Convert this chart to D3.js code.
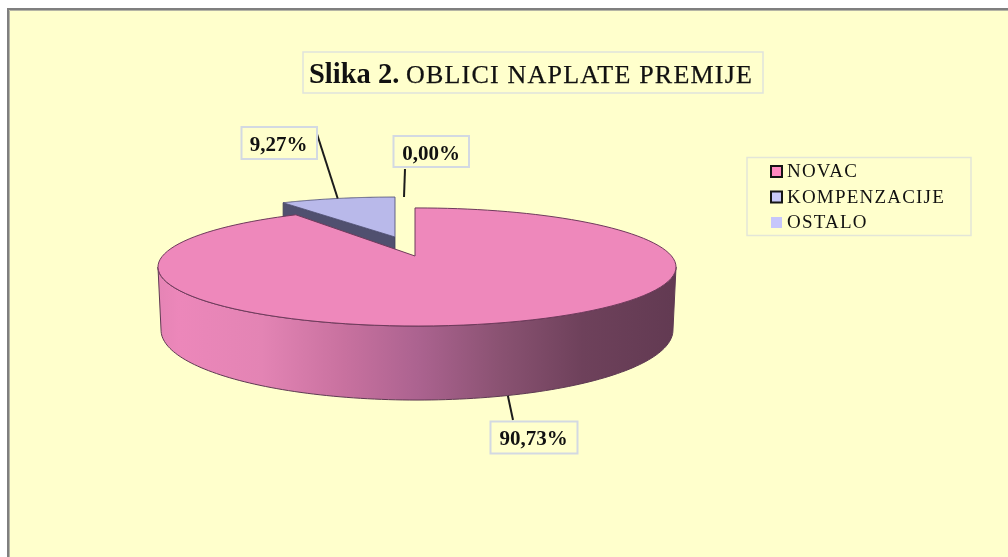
<!DOCTYPE html>
<html>
<head>
<meta charset="utf-8">
<script src="https://cdn.jsdelivr.net/npm/d3@7"></script>
<style>
  html, body { margin: 0; padding: 0; background: #fff; overflow: hidden; }
  svg { display: block; filter: blur(0.35px); }
  text { font-family: "Liberation Serif", serif; fill: #111; }
</style>
</head>
<body>
<svg id="chart" width="1008" height="557"></svg>
<script>
const categories = ["NOVAC", "KOMPENZACIJE", "OSTALO"];
const values = [90.73, 9.27, 0.00];
const titleBold = "Slika 2.";
const titleRest = "OBLICI NAPLATE PREMIJE";

const colors = ["#ee88bb", "#b9b9ea", "#c6c6fb"];
const legendColors = ["#ff88c0", "#c8c8f8", "#c6c6fb"];

const svg = d3.select("#chart");
const defs = svg.append("defs");

// chart area, only the top and left frame show in the crop
svg.append("rect").attr("x", 8).attr("y", 9).attr("width", 1000).attr("height", 548).attr("fill", "#ffffcc");
svg.append("path").attr("d", "M8,557V9H1008").attr("fill", "none").attr("stroke", "#7f7f7f").attr("stroke-width", 2);
svg.append("path").attr("d", "M9.5,557V10.5H1008").attr("fill", "none").attr("stroke", "#b5b5a5").attr("stroke-width", 1);

// perspective: a flat disc seen from above, near edge is drawn bigger
const k = -0.186;
function project(face, theta) {
  const ux = Math.sin(theta), uy = -Math.cos(theta), w = 1 + k * uy;
  return [face.x + face.b * ux / w, face.y + face.a * uy / w];
}
const mainTop = { x: 417, y: 256, a: 57, b: 254.5 };
const mainBottom = { x: 417, y: 317, a: 67.6, b: 251.5 };
const wedgeTop = { x: 395, y: 237, a: 47.4, b: 235 };
const wedgeBottom = { x: 395, y: 267, a: 47.4, b: 235 };
const notchX = 415;

const arcs = d3.pie().sort(null).value(d => d)(values);
const line = d3.line();
const sweep = (face, a0, a1) => d3.range(0, 121).map(i => project(face, a0 + (a1 - a0) * i / 120));

// side gradient
const grad = defs.append("linearGradient").attr("id", "sideShade")
  .attr("gradientUnits", "userSpaceOnUse")
  .attr("x1", 158).attr("x2", 676).attr("y1", 0).attr("y2", 0);
[[0, "#e584b5"], [0.04, "#ec87ba"], [0.2, "#e384b4"], [0.36, "#c8719f"], [0.5, "#ac6390"],
 [0.66, "#8a5272"], [0.82, "#6e415b"], [1, "#623a52"]].forEach(s => {
  grad.append("stop").attr("offset", s[0]).attr("stop-color", s[1]);
});

// KOMPENZACIJE wedge, pulled back from the main slice
const w = arcs[1];
svg.append("path")
  .attr("d", line([[wedgeTop.x, wedgeTop.y], project(wedgeTop, w.startAngle), project(wedgeBottom, w.startAngle), [wedgeBottom.x, wedgeBottom.y]]) + "Z")
  .attr("fill", "#50506f").attr("stroke", "#3c3c55").attr("stroke-width", 0.8);
svg.append("path")
  .attr("d", line([[wedgeTop.x, wedgeTop.y], ...sweep(wedgeTop, w.startAngle, w.endAngle)]) + "Z")
  .attr("fill", colors[1]).attr("stroke", "#55557a").attr("stroke-width", 0.9);

// NOVAC slice: outer wall then top face
const m = arcs[0];
const tangent = Math.acos(k);
const wallTop = sweep(mainTop, tangent, 2 * Math.PI - tangent);
const wallBottom = sweep(mainBottom, tangent, 2 * Math.PI - tangent).reverse();
svg.append("path")
  .attr("d", line(wallTop.concat(wallBottom)) + "Z")
  .attr("fill", "url(#sideShade)").attr("stroke", "#5e3a52").attr("stroke-width", 1);
const topRim = sweep(mainTop, m.startAngle, m.endAngle);
svg.append("path")
  .attr("d", line([[notchX, mainTop.y], [notchX, topRim[0][1]], ...topRim]) + "Z")
  .attr("fill", colors[0]).attr("stroke", "#6f3a5c").attr("stroke-width", 1);

// data labels with leader lines
const boxStroke = "#d3d9e2";
const fmt = v => v.toFixed(2).replace(".", ",") + "%";
const labelBoxes = [
  { x: 490.5, y: 421.5, w: 87, h: 32, tx: 533.5, ty: 445, to: [513, 420], shift: 3 },
  { x: 241.5, y: 127, w: 75.5, h: 32, tx: 278.5, ty: 151, to: [317, 134], shift: 0 },
  { x: 393.5, y: 136, w: 75.5, h: 31, tx: 431, ty: 159.5, to: [405, 169], shift: 0 }
];
const anchors = [
  project(mainBottom, (m.startAngle + m.endAngle) / 2),
  project(wedgeTop, (w.startAngle + w.endAngle) / 2),
  [404, project(wedgeTop, arcs[2].startAngle)[1]]
];
values.forEach((v, i) => {
  const b = labelBoxes[i];
  svg.append("line")
    .attr("x1", anchors[i][0] + b.shift).attr("y1", anchors[i][1])
    .attr("x2", b.to[0]).attr("y2", b.to[1])
    .attr("stroke", "#1c1c1c").attr("stroke-width", 2);
  svg.append("rect").attr("x", b.x).attr("y", b.y).attr("width", b.w).attr("height", b.h)
    .attr("fill", "#ffffcc").attr("stroke", boxStroke).attr("stroke-width", 2);
  svg.append("text").attr("x", b.tx).attr("y", b.ty).attr("text-anchor", "middle")
    .attr("font-size", 21).attr("font-weight", "bold").text(fmt(v));
});

// title
svg.append("rect").attr("x", 303).attr("y", 52).attr("width", 460).attr("height", 41)
  .attr("fill", "#ffffcc").attr("stroke", "#dfe3dc").attr("stroke-width", 1.5);
svg.append("text").attr("x", 309).attr("y", 83)
  .attr("font-size", 28.5).attr("font-weight", "bold").text(titleBold);
svg.append("text").attr("x", 406).attr("y", 83)
  .attr("font-size", 26).attr("letter-spacing", 1.2)
  .attr("stroke", "#111").attr("stroke-width", 0.25).text(titleRest);

// legend
svg.append("rect").attr("x", 747).attr("y", 157.5).attr("width", 224).attr("height", 78)
  .attr("fill", "#ffffcc").attr("stroke", "#e3e6d8").attr("stroke-width", 1.5);
const legendRow = d3.scalePoint().domain(categories).range([171, 222]);
categories.forEach((c, i) => {
  const hasBorder = i < 2;
  svg.append("rect").attr("x", 771).attr("y", legendRow(c) - 5).attr("width", 11).attr("height", 11)
    .attr("fill", legendColors[i])
    .attr("stroke", hasBorder ? "#151515" : "none").attr("stroke-width", 2);
  svg.append("text").attr("x", 787).attr("y", legendRow(c) + 6).attr("font-size", 19)
    .attr("letter-spacing", 1.2).text(c);
});
</script>
</body>
</html>
